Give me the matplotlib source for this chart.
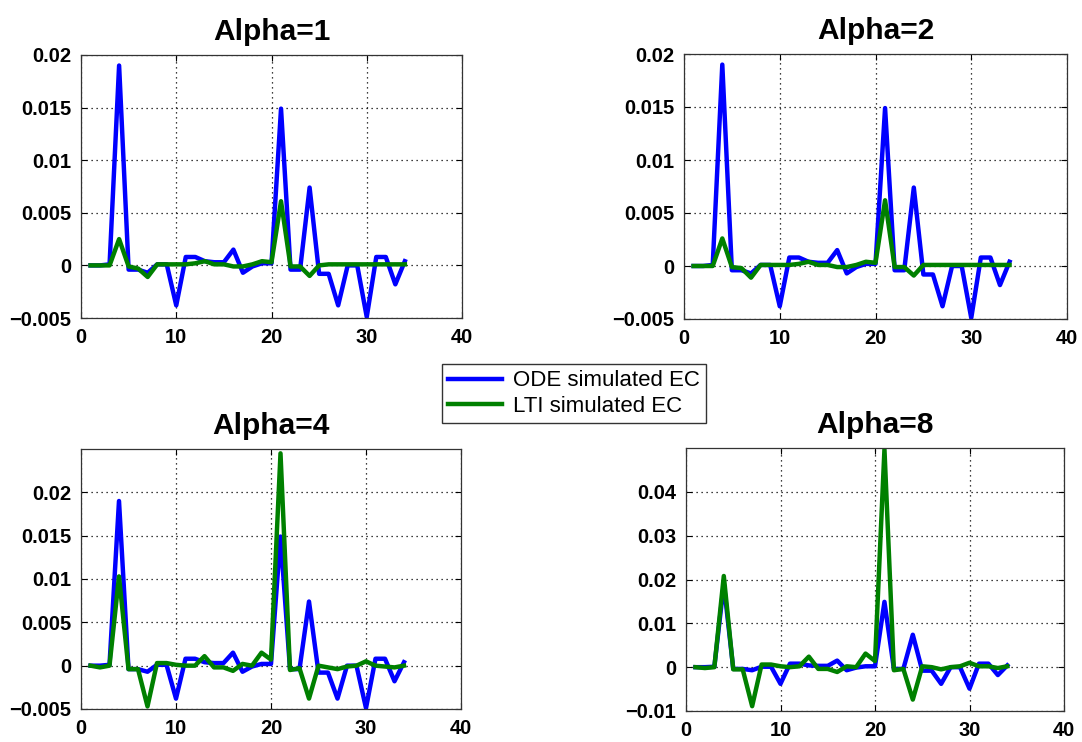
import matplotlib
matplotlib.use("Agg")
import matplotlib.pyplot as plt
import numpy as np

x = list(range(1, 35))

ode_ec = [0, 0, 0.0001, 0.019, -0.0004, -0.0004, -0.0007, 0.0001, 0.0001, -0.0038,
          0.0008, 0.0008, 0.0004, 0.0003, 0.0003, 0.0015, -0.0007, -0.0001, 0.0002, 0.0002,
          0.0149, -0.0004, -0.0004, 0.0074, -0.0008, -0.0008, -0.0038, 0, 0, -0.0049,
          0.0008, 0.0008, -0.0018, 0.0004]

lti_alpha1 = [0, 0, 0, 0.0025, -0.0001, -0.0003, -0.0011, 0.0001, 0.0001, 0.0001,
              0.0001, 0.0002, 0.0004, 0.0001, 0.0001, -0.0001, -0.0001, 0.0001, 0.0004, 0.0003,
              0.0061, -0.0001, -0.0001, -0.001, 0, 0.0001, 0.0001, 0.0001, 0.0001, 0.0001,
              0.0001, 0.0001, 0.0001, 0.0001]

lti_alpha2 = [0, 0, 0, 0.0026, -0.0001, -0.0002, -0.0011, 0.0001, 0.0001, 0.0001,
              0.0001, 0.0002, 0.0004, 0.0001, 0.0001, -0.0001, -0.0001, 0.0001, 0.0004, 0.0003,
              0.0062, -0.0001, -0.0001, -0.0009, 0.0001, 0.0001, 0.0001, 0.0001, 0.0001, 0.0001,
              0.0001, 0.0001, 0.0001, 0.0001]

lti_alpha4 = [0, -0.0002, 0, 0.0103, -0.0004, -0.0004, -0.0047, 0.0003, 0.0003, 0.0001,
              0, 0, 0.0011, -0.0002, -0.0002, -0.0006, 0.0002, 0, 0.0015, 0.0007,
              0.0245, -0.0005, -0.0003, -0.0038, 0, -0.0002, -0.0004, -0.0001, 0, 0.0005,
              0, -0.0001, -0.0002, 0]

lti_alpha8 = [0, -0.0002, 0, 0.0208, -0.0005, -0.0005, -0.0089, 0.0006, 0.0006, 0.0002,
              0, 0.0002, 0.0024, -0.0004, -0.0004, -0.0011, 0.0002, 0, 0.0031, 0.0014,
              0.0497, -0.0007, -0.0004, -0.0074, 0.0002, 0, -0.0005, 0, 0.0002, 0.001,
              0.0002, 0.0002, -0.0002, 0.0002]

titles = ["Alpha=1", "Alpha=2", "Alpha=4", "Alpha=8"]
lti_series = [lti_alpha1, lti_alpha2, lti_alpha4, lti_alpha8]
ylims = [(-0.005, 0.02), (-0.005, 0.02), (-0.005, 0.025), (-0.01, 0.05)]
yticks = [[-0.005, 0, 0.005, 0.01, 0.015, 0.02],
          [-0.005, 0, 0.005, 0.01, 0.015, 0.02],
          [-0.005, 0, 0.005, 0.01, 0.015, 0.02],
          [-0.01, 0, 0.01, 0.02, 0.03, 0.04]]
yticklabels = [["\u22120.005", "0", "0.005", "0.01", "0.015", "0.02"],
               ["\u22120.005", "0", "0.005", "0.01", "0.015", "0.02"],
               ["\u22120.005", "0", "0.005", "0.01", "0.015", "0.02"],
               ["\u22120.01", "0", "0.01", "0.02", "0.03", "0.04"]]
xticks = [0, 10, 20, 30, 40]

plt.rcParams['font.family'] = ['Liberation Sans', 'DejaVu Sans']

W, H = 1082, 742
fig = plt.figure(figsize=(W / 100, H / 100), dpi=100)

# pixel boxes: left, right, top, bottom
boxes = [(81, 462, 55, 318), (684, 1067, 54, 319), (81, 461, 449, 709), (686, 1064, 448, 711)]

lines = None
for i in range(4):
    l, r, t, b = boxes[i]
    ax = fig.add_axes([l / W, (H - b) / H, (r - l) / W, (b - t) / H])
    h1, = ax.plot(x, ode_ec, color=(0, 0, 1), lw=3.2, label="ODE simulated EC")
    h2, = ax.plot(x, lti_series[i], color=(0, 0.5, 0), lw=3.2, label="LTI simulated EC")
    lines = (h1, h2)
    ax.set_xlim(0, 40)
    ax.set_ylim(*ylims[i])
    ax.set_xticks(xticks)
    ax.set_yticks(yticks[i])
    ax.set_yticklabels(yticklabels[i])
    ax.grid(True, color='black', linestyle=(0, (1, 3)), linewidth=0.9)
    ax.tick_params(direction='in', length=4, width=0.8, labelsize=14.5, pad=7,
                   top=True, right=True)
    for lab in ax.get_xticklabels() + ax.get_yticklabels():
        lab.set_fontweight('bold')
    for s in ax.spines.values():
        s.set_linewidth(0.9)
        s.set_color('#333333')
    ax.set_title(titles[i], fontsize=21.5, fontweight='bold', pad=11)

leg = fig.legend(lines, ["ODE simulated EC", "LTI simulated EC"], loc='center',
                 bbox_to_anchor=(574 / W, 1 - 393.5 / H), fontsize=16,
                 fancybox=False, edgecolor='#333333', framealpha=1,
                 handlelength=2.4, borderpad=0.3, labelspacing=0.2, handletextpad=0.5,
                 borderaxespad=0)
leg.get_frame().set_linewidth(1.0)

fig.savefig("out.png", dpi=100)
